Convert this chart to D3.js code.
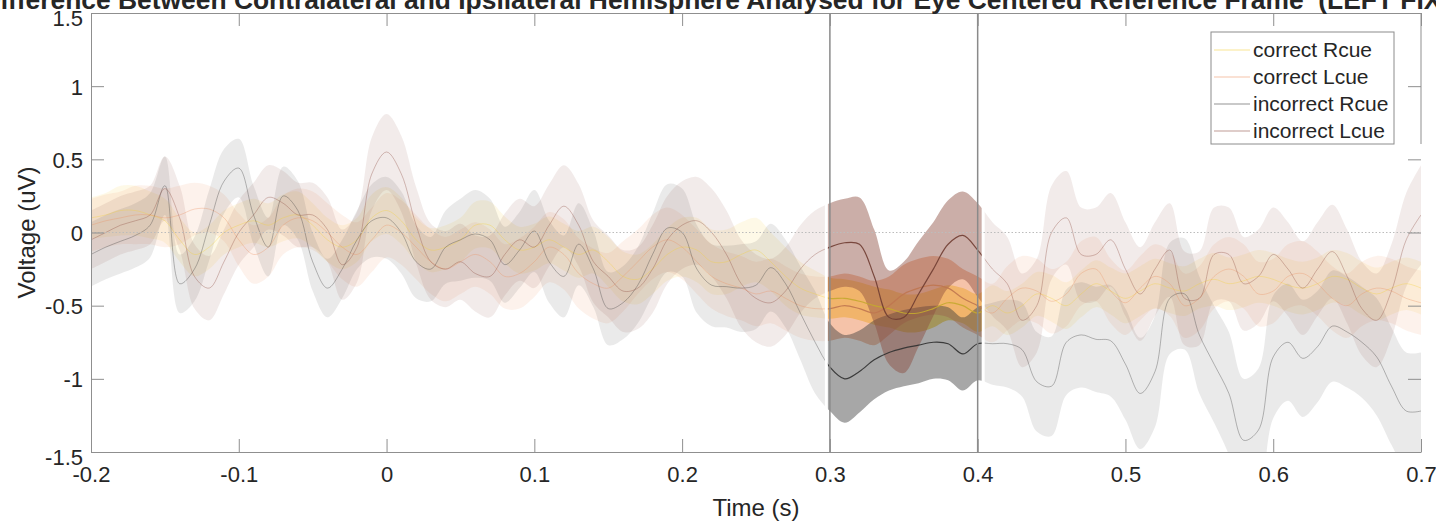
<!DOCTYPE html>
<html>
<head>
<meta charset="utf-8">
<script src="https://cdn.jsdelivr.net/npm/d3@7"></script>
<style>
  body { margin: 0; background: #fff; }
  svg { display: block; }
  text { font-family: "Liberation Sans", Arial, Helvetica, sans-serif; fill: #262626; }
</style>
</head>
<body>
<div id="chart"></div>
<script>
// time base (s)
const times = [
  -0.20,-0.19,-0.18,-0.17,-0.16,-0.15,-0.14,-0.13,-0.12,-0.11,
  -0.10,-0.09,-0.08,-0.07,-0.06,-0.05,-0.04,-0.03,-0.02,-0.01,
  0.00,0.01,0.02,0.03,0.04,0.05,0.06,0.07,0.08,0.09,
  0.10,0.11,0.12,0.13,0.14,0.15,0.16,0.17,0.18,0.19,
  0.20,0.21,0.22,0.23,0.24,0.25,0.26,0.27,0.28,0.29,
  0.30,0.31,0.32,0.33,0.34,0.35,0.36,0.37,0.38,0.39,
  0.40,0.41,0.42,0.43,0.44,0.45,0.46,0.47,0.48,0.49,
  0.50,0.51,0.52,0.53,0.54,0.55,0.56,0.57,0.58,0.59,
  0.60,0.61,0.62,0.63,0.64,0.65,0.66,0.67,0.68,0.69,
  0.70
];

// mean difference (uV) and half width of the shaded band
const correctRcue = [
  0.10,0.12,0.15,0.15,0.12,0.08,-0.05,-0.15,-0.10,0.00,
  0.05,0.08,0.05,0.10,0.12,0.05,-0.05,-0.10,-0.05,0.10,
  0.15,0.08,-0.05,-0.12,-0.10,-0.05,0.05,0.05,-0.05,-0.12,
  -0.10,-0.05,-0.10,-0.15,-0.12,-0.20,-0.30,-0.32,-0.25,-0.15,
  -0.10,-0.12,-0.20,-0.20,-0.15,-0.12,-0.20,-0.30,-0.38,-0.42,
  -0.45,-0.45,-0.47,-0.50,-0.52,-0.55,-0.55,-0.52,-0.48,-0.50,
  -0.55,-0.50,-0.55,-0.50,-0.42,-0.45,-0.50,-0.42,-0.35,-0.40,
  -0.45,-0.40,-0.35,-0.38,-0.40,-0.35,-0.32,-0.35,-0.33,-0.30,
  -0.32,-0.36,-0.38,-0.35,-0.30,-0.32,-0.38,-0.42,-0.38,-0.35,
  -0.38
];
const correctRcueSE = [
  0.14,0.15,0.17,0.17,0.16,0.15,0.15,0.15,0.15,0.15,
  0.15,0.15,0.15,0.16,0.16,0.15,0.15,0.15,0.15,0.16,
  0.16,0.16,0.15,0.15,0.15,0.15,0.16,0.16,0.16,0.16,
  0.16,0.16,0.16,0.16,0.16,0.17,0.17,0.17,0.17,0.18,
  0.20,0.22,0.22,0.22,0.22,0.22,0.20,0.20,0.18,0.16,
  0.14,0.13,0.13,0.13,0.13,0.13,0.13,0.13,0.12,0.12,
  0.13,0.14,0.15,0.15,0.15,0.16,0.16,0.16,0.16,0.16,
  0.17,0.17,0.17,0.17,0.17,0.17,0.18,0.18,0.18,0.18,
  0.18,0.18,0.18,0.18,0.18,0.18,0.18,0.18,0.18,0.18,
  0.18
];

const correctLcue = [
  0.05,0.08,0.10,0.12,0.12,0.10,0.12,0.16,0.16,0.10,
  -0.05,-0.15,-0.10,0.05,0.10,0.08,0.00,-0.10,-0.15,-0.05,
  0.05,0.00,-0.10,-0.20,-0.25,-0.20,-0.15,-0.20,-0.30,-0.28,
  -0.20,-0.10,-0.15,-0.28,-0.35,-0.38,-0.30,-0.20,-0.10,-0.05,
  -0.10,-0.20,-0.30,-0.35,-0.38,-0.42,-0.40,-0.45,-0.50,-0.52,
  -0.52,-0.50,-0.52,-0.55,-0.50,-0.42,-0.38,-0.36,-0.38,-0.45,
  -0.50,-0.55,-0.45,-0.38,-0.40,-0.47,-0.42,-0.28,-0.25,-0.40,
  -0.48,-0.38,-0.30,-0.35,-0.50,-0.45,-0.30,-0.25,-0.30,-0.42,
  -0.40,-0.30,-0.28,-0.35,-0.45,-0.50,-0.42,-0.38,-0.40,-0.45,
  -0.48
];
const correctLcueSE = [
  0.18,0.18,0.18,0.20,0.20,0.20,0.20,0.18,0.16,0.16,
  0.18,0.20,0.20,0.20,0.20,0.20,0.20,0.22,0.22,0.22,
  0.22,0.22,0.22,0.22,0.22,0.22,0.22,0.22,0.22,0.24,
  0.24,0.24,0.24,0.24,0.24,0.24,0.24,0.22,0.22,0.22,
  0.22,0.22,0.22,0.22,0.22,0.22,0.22,0.22,0.22,0.22,
  0.22,0.22,0.22,0.22,0.20,0.20,0.20,0.20,0.20,0.20,
  0.20,0.20,0.22,0.22,0.22,0.22,0.22,0.22,0.22,0.22,
  0.22,0.22,0.22,0.22,0.22,0.22,0.22,0.22,0.22,0.22,
  0.22,0.22,0.22,0.22,0.22,0.22,0.22,0.22,0.22,0.22,
  0.22
];

const incorrectRcue = [
  -0.15,-0.10,-0.06,-0.02,0.05,0.32,-0.35,-0.25,0.05,0.35,
  0.44,0.12,-0.10,0.25,0.15,-0.20,-0.38,-0.25,-0.05,0.08,
  0.10,0.00,-0.20,-0.25,-0.10,-0.05,-0.01,-0.05,-0.22,-0.12,
  0.01,-0.20,-0.30,-0.08,-0.25,-0.52,-0.48,-0.36,-0.15,0.03,
  0.00,-0.25,-0.36,-0.37,-0.38,-0.36,-0.24,-0.35,-0.55,-0.75,
  -0.92,-1.00,-0.95,-0.87,-0.82,-0.79,-0.77,-0.75,-0.76,-0.83,
  -0.76,-0.76,-0.76,-0.80,-1.02,-1.05,-0.75,-0.70,-0.73,-0.74,
  -0.90,-1.10,-0.95,-0.45,-0.42,-0.70,-0.90,-1.10,-1.42,-1.35,
  -0.85,-0.75,-0.86,-0.78,-0.64,-0.68,-0.75,-0.85,-1.05,-1.22,
  -1.22
];
const incorrectRcueSE = [
  0.22,0.22,0.22,0.22,0.22,0.20,0.20,0.22,0.24,0.22,
  0.20,0.20,0.20,0.20,0.20,0.20,0.20,0.20,0.20,0.25,
  0.28,0.28,0.25,0.22,0.25,0.28,0.30,0.28,0.26,0.26,
  0.28,0.28,0.28,0.28,0.26,0.25,0.25,0.26,0.28,0.30,
  0.30,0.30,0.28,0.28,0.30,0.30,0.30,0.30,0.32,0.35,
  0.30,0.30,0.28,0.27,0.26,0.26,0.26,0.25,0.25,0.25,
  0.25,0.28,0.30,0.32,0.34,0.34,0.36,0.36,0.36,0.38,
  0.38,0.38,0.38,0.38,0.38,0.40,0.40,0.42,0.42,0.42,
  0.42,0.40,0.40,0.38,0.38,0.38,0.38,0.40,0.40,0.40,
  0.40
];

const incorrectLcue = [
  -0.05,0.00,0.05,0.08,0.12,0.30,0.10,-0.30,-0.38,-0.20,
  0.00,0.12,0.24,0.20,0.12,0.12,0.02,-0.22,-0.10,0.40,
  0.55,0.40,0.05,-0.20,-0.25,-0.20,-0.28,-0.30,-0.15,-0.05,
  -0.10,0.05,0.18,0.05,-0.20,-0.30,-0.40,-0.38,-0.25,-0.05,
  0.05,0.08,0.00,-0.15,-0.35,-0.45,-0.48,-0.40,-0.25,-0.15,
  -0.10,-0.07,-0.08,-0.30,-0.58,-0.58,-0.42,-0.25,-0.08,-0.02,
  -0.12,-0.25,-0.35,-0.60,-0.50,0.00,0.10,-0.15,-0.15,-0.05,
  -0.25,-0.42,-0.25,-0.12,-0.45,-0.45,-0.15,-0.15,-0.35,-0.30,
  -0.15,-0.25,-0.38,-0.25,-0.13,-0.30,-0.52,-0.60,-0.40,-0.05,
  0.12
];
const incorrectLcueSE = [
  0.20,0.20,0.20,0.20,0.20,0.22,0.22,0.22,0.22,0.22,
  0.22,0.22,0.22,0.22,0.22,0.22,0.22,0.24,0.24,0.25,
  0.26,0.26,0.26,0.26,0.26,0.26,0.26,0.28,0.28,0.28,
  0.28,0.28,0.28,0.28,0.28,0.28,0.28,0.28,0.30,0.30,
  0.30,0.30,0.30,0.30,0.30,0.30,0.30,0.30,0.30,0.30,
  0.30,0.30,0.32,0.32,0.32,0.38,0.36,0.32,0.30,0.30,
  0.32,0.32,0.32,0.32,0.32,0.32,0.32,0.32,0.32,0.32,
  0.32,0.32,0.32,0.32,0.32,0.32,0.32,0.32,0.32,0.32,
  0.32,0.32,0.32,0.32,0.32,0.32,0.32,0.32,0.32,0.32,
  0.34
];

const seriesNames = ["correct Rcue", "correct Lcue", "incorrect Rcue", "incorrect Lcue"];
const seriesMeans = [correctRcue, correctLcue, incorrectRcue, incorrectLcue];
const seriesSE = [correctRcueSE, correctLcueSE, incorrectRcueSE, incorrectLcueSE];

const xTicks = [-0.2, -0.1, 0, 0.1, 0.2, 0.3, 0.4, 0.5, 0.6, 0.7];
const yTicks = [-1.5, -1, -0.5, 0, 0.5, 1, 1.5];
const analysisWindow = [0.3, 0.4];

const chartTitle = "Difference Between Contralateral and Ipsilateral Hemisphere Analysed for Eye Centered Reference Frame  (LEFT FIXATION)";

// styling
const colors = ["#f3d03a", "#ec9263", "#3c3c3c", "#8b4b3e"];
const faintBand = [0.12, 0.12, 0.11, 0.11];
const strongBand = [0.7, 0.55, 0.45, 0.45];
const axisGrey = "#8f8f8f";

const W = 1436, H = 523;
const margin = {top: 13, right: 15, bottom: 71, left: 91};

const svg = d3.select("#chart").append("svg")
  .attr("width", W)
  .attr("height", H);

const x = d3.scaleLinear()
  .domain([xTicks[0], xTicks[xTicks.length - 1]])
  .range([margin.left, W - margin.right]);

const y = d3.scaleLinear()
  .domain([yTicks[0], yTicks[yTicks.length - 1]])
  .range([H - margin.bottom, margin.top]);

const series = seriesNames.map((name, i) => ({
  name,
  i,
  values: times.map((t, j) => ({t, m: seriesMeans[i][j], se: seriesSE[i][j]}))
}));

const area = d3.area()
  .x(d => x(d.t))
  .y0(d => y(d.m - d.se))
  .y1(d => y(d.m + d.se))
  .curve(d3.curveCatmullRom);

const line = d3.line()
  .x(d => x(d.t))
  .y(d => y(d.m))
  .curve(d3.curveCatmullRom);

const defs = svg.append("defs");
defs.append("clipPath").attr("id", "plotClip")
  .append("rect")
  .attr("x", x.range()[0]).attr("y", y.range()[1])
  .attr("width", x.range()[1] - x.range()[0])
  .attr("height", y.range()[0] - y.range()[1]);
defs.append("clipPath").attr("id", "winClip")
  .append("rect")
  .attr("x", x(analysisWindow[0]) - 2).attr("y", y.range()[1])
  .attr("width", x(analysisWindow[1]) - x(analysisWindow[0]) + 6)
  .attr("height", y.range()[0] - y.range()[1]);

// whole epoch, pale
const faint = svg.append("g").attr("clip-path", "url(#plotClip)");
faint.selectAll("path.band")
  .data(series)
  .join("path")
  .attr("class", "band")
  .attr("d", d => area(d.values))
  .attr("fill", d => colors[d.i])
  .attr("fill-opacity", d => faintBand[d.i]);
faint.selectAll("path.mean")
  .data(series)
  .join("path")
  .attr("class", "mean")
  .attr("d", d => line(d.values))
  .attr("fill", "none")
  .attr("stroke", d => colors[d.i])
  .attr("stroke-opacity", 0.35)
  .attr("stroke-width", 1);

// analysis window, highlighted
svg.append("rect")
  .attr("x", x(analysisWindow[0]) - 5)
  .attr("y", y.range()[1])
  .attr("width", x(analysisWindow[1]) - x(analysisWindow[0]) + 12)
  .attr("height", y.range()[0] - y.range()[1])
  .attr("fill", "#fff");

const strong = svg.append("g").attr("clip-path", "url(#winClip)");
strong.selectAll("path.band")
  .data(series)
  .join("path")
  .attr("class", "band")
  .attr("d", d => area(d.values))
  .attr("fill", d => colors[d.i])
  .attr("fill-opacity", d => strongBand[d.i]);
strong.selectAll("path.mean")
  .data(series)
  .join("path")
  .attr("class", "mean")
  .attr("d", d => line(d.values))
  .attr("fill", "none")
  .attr("stroke", d => d3.color(colors[d.i]).darker(0.6))
  .attr("stroke-opacity", 0.9)
  .attr("stroke-width", 1.2);

// zero line
svg.append("line")
  .attr("x1", x.range()[0]).attr("x2", x.range()[1])
  .attr("y1", y(0)).attr("y2", y(0))
  .attr("stroke", "#bcbcbc")
  .attr("stroke-dasharray", "1.5,2");

// window borders
svg.selectAll("line.win")
  .data(analysisWindow)
  .join("line")
  .attr("class", "win")
  .attr("x1", d => x(d)).attr("x2", d => x(d))
  .attr("y1", y.range()[0]).attr("y2", y.range()[1])
  .attr("stroke", "#8a8a8a")
  .attr("stroke-width", 1.5);

// axes
const fmt = d => String(d);
function styleAxis(g) {
  g.select(".domain").attr("stroke", axisGrey);
  g.selectAll(".tick line").attr("stroke", axisGrey);
  g.selectAll(".tick text").attr("font-size", 22).attr("fill", "#262626");
}

svg.append("g")
  .attr("transform", `translate(0,${y.range()[0]})`)
  .call(d3.axisBottom(x).tickValues(xTicks).tickFormat(fmt)
    .tickSizeInner(-13).tickSizeOuter(0).tickPadding(14))
  .call(styleAxis);

svg.append("g")
  .attr("transform", `translate(0,${y.range()[1]})`)
  .call(d3.axisTop(x).tickValues(xTicks).tickFormat("")
    .tickSizeInner(-13).tickSizeOuter(0))
  .call(styleAxis);

svg.append("g")
  .attr("transform", `translate(${x.range()[0]},0)`)
  .call(d3.axisLeft(y).tickValues(yTicks).tickFormat(fmt)
    .tickSizeInner(-13).tickSizeOuter(0).tickPadding(8))
  .call(styleAxis)
  .call(g => g.selectAll(".tick text")
    .attr("dy", d => Math.abs(d) === 1.5 ? "0.55em" : "0.36em"));

const right = svg.append("g")
  .attr("transform", `translate(${x.range()[1]},0)`)
  .call(d3.axisRight(y).tickValues(yTicks).tickFormat("")
    .tickSizeInner(-13).tickSizeOuter(0))
  .call(styleAxis);
right.select(".domain").remove();

// legend
const legendW = 183, legendH = 112, rowH = 27;
const lx = x.range()[1] - 27 - legendW;
const ly = y.range()[1] + 19;

right.append("line")
  .attr("x1", 0).attr("x2", 0)
  .attr("y1", y.range()[1]).attr("y2", ly + legendH)
  .attr("stroke", axisGrey);

const legend = svg.append("g").attr("transform", `translate(${lx},${ly})`);
legend.append("rect")
  .attr("width", legendW).attr("height", legendH)
  .attr("fill", "#fff")
  .attr("stroke", "#8c8c8c");
const items = legend.selectAll("g.item")
  .data(series)
  .join("g")
  .attr("class", "item")
  .attr("transform", (d, i) => `translate(0,${18 + i * rowH})`);
items.append("line")
  .attr("x1", 3).attr("x2", 39)
  .attr("stroke", d => colors[d.i])
  .attr("stroke-opacity", 0.55)
  .attr("stroke-width", 1.2);
items.append("text")
  .attr("x", 42)
  .attr("dy", "0.35em")
  .attr("font-size", 21)
  .text(d => d.name);

// labels
svg.append("text")
  .attr("x", (x.range()[0] + x.range()[1]) / 2)
  .attr("y", H - 7)
  .attr("text-anchor", "middle")
  .attr("font-size", 24)
  .text("Time (s)");

svg.append("text")
  .attr("transform", `translate(35,${y(0)}) rotate(-90)`)
  .attr("text-anchor", "middle")
  .attr("font-size", 24)
  .text("Voltage (uV)");

// title sits partly outside the figure, as in the source image
svg.append("text")
  .attr("x", (x.range()[0] + x.range()[1]) / 2)
  .attr("y", 9)
  .attr("text-anchor", "middle")
  .attr("font-size", 26.4)
  .attr("font-weight", "bold")
  .style("white-space", "pre")
  .text(chartTitle);
</script>
</body>
</html>
